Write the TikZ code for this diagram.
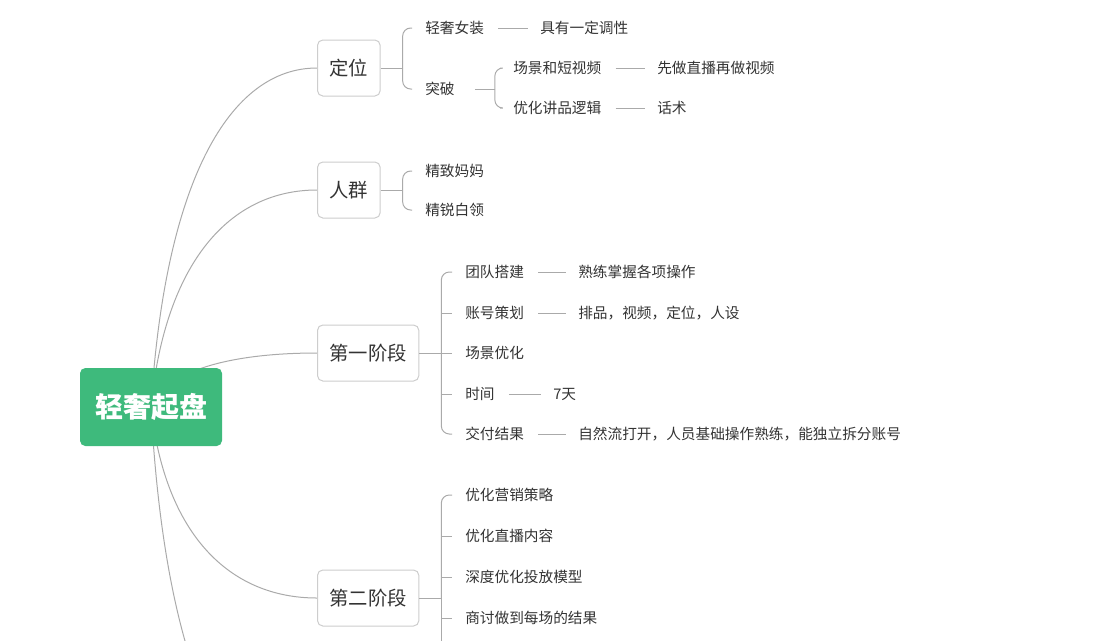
\documentclass[tikz,border=0pt]{standalone}
\usepackage{fontspec}
\setmainfont{Noto Sans CJK SC}
\usepackage{xcolor}
\usepackage{tikz}
\usetikzlibrary{backgrounds}
\definecolor{rootgreen}{RGB}{62,186,124}
\definecolor{linegray}{RGB}{170,170,170}
\definecolor{boxgray}{RGB}{205,205,205}
\definecolor{textdark}{RGB}{51,51,51}

\begin{document}
\begin{tikzpicture}[x=0.75pt, y=-0.75pt,
  root/.style={fill=rootgreen, rounded corners=4pt, minimum width=106.5pt, minimum height=58.5pt, text=white, font=\fontsize{21}{24}\selectfont\bfseries},
  topic/.style={draw=boxgray, fill=white, rounded corners=4pt, line width=0.75pt, minimum height=42pt, inner xsep=9pt, anchor=west, text=textdark, font=\fontsize{14.5}{17}\selectfont},
  item/.style={anchor=west, inner sep=0pt, text=textdark, font=\fontsize{11}{13}\selectfont},
  branch/.style={draw=linegray, line width=0.75pt},
  twig/.style={draw=linegray, line width=0.75pt, rounded corners=6pt, shorten >=9.75pt},
  leafline/.style={draw=linegray, line width=0.75pt, shorten <=10.5pt, shorten >=9pt}]
  \useasboundingbox (0,0) rectangle (1094,640);
  % root and main topics
  \node[root] (root) at (151,407) {轻奢起盘};
  \node[topic] (dw) at (317,68) {定位};
  \node[topic] (rq) at (317,190) {人群};
  \node[topic] (jd1) at (317,353) {第一阶段};
  \node[topic] (jd2) at (317,598) {第二阶段};
  \coordinate (next) at (317,800);
  % 定位
  \node[item] (dw1) at (425,28) {轻奢女装};
  \node[item] (dw1v) at (540,28) {具有一定调性};
  \node[item] (dw2) at (425,89) {突破};
  \node[item] (tp1) at (513,68) {场景和短视频};
  \node[item] (tp1v) at (657,68) {先做直播再做视频};
  \node[item] (tp2) at (513,108) {优化讲品逻辑};
  \node[item] (tp2v) at (657,108) {话术};
  % 人群
  \node[item] (rq1) at (425,171) {精致妈妈};
  \node[item] (rq2) at (425,210) {精锐白领};
  % 第一阶段
  \node[item] (a1) at (465,272) {团队搭建};
  \node[item] (a1v) at (578,272) {熟练掌握各项操作};
  \node[item] (a2) at (465,313) {账号策划};
  \node[item] (a2v) at (578,313) {排品，视频，定位，人设};
  \node[item] (a3) at (465,353) {场景优化};
  \node[item] (a4) at (465,394) {时间};
  \node[item] (a4v) at (553,394) {7天};
  \node[item] (a5) at (465,434) {交付结果};
  \node[item] (a5v) at (578,434) {自然流打开，人员基础操作熟练，能独立拆分账号};
  % 第二阶段
  \node[item] (b1) at (465,495) {优化营销策略};
  \node[item] (b2) at (465,536) {优化直播内容};
  \node[item] (b3) at (465,577) {深度优化投放模型};
  \node[item] (b4) at (465,618) {商讨做到每场的结果};

  \begin{pgfonlayer}{background}
    \draw[branch] (root.center) .. controls +(14,-227) and +(-87,0) .. (dw.west);
    \draw[branch] (root.center) .. controls +(14,-145) and +(-87,0) .. (rq.west);
    \draw[branch] (root.center) .. controls +(14,-36) and +(-87,0) .. (jd1.west);
    \draw[branch] (root.center) .. controls +(14,128) and +(-87,0) .. (jd2.west);
    \draw[branch] (root.center) .. controls +(14,263) and +(-87,0) .. (next);
  \end{pgfonlayer}

  % brackets
  \foreach \p in {dw,rq,jd1,jd2} \draw[branch] (\p.east) -- ++(22,0) coordinate (\p s);
  \draw[branch] (dw2.east) ++(20,0) -- ++(20,0) coordinate (dw2s);
  \foreach \c in {dw1,dw2} \draw[twig] (dws) |- (\c);
  \foreach \c in {tp1,tp2} \draw[twig] (dw2s) |- (\c);
  \foreach \c in {rq1,rq2} \draw[twig] (rqs) |- (\c);
  \foreach \c in {a1,a5} \draw[twig] (jd1s) |- (\c);
  \foreach \c in {a2,a3,a4} \draw[twig] (\c -| jd1s) -- (\c);
  \draw[twig] (jd2s) |- (b1);
  \foreach \c in {b2,b3,b4} \draw[twig] (\c -| jd2s) -- (\c);
  \draw[branch] (jd2s) -- ++(0,60);
  % leaves
  \foreach \a/\b in {dw1/dw1v, tp1/tp1v, tp2/tp2v, a1/a1v, a2/a2v, a4/a4v, a5/a5v}
    \draw[leafline] (\a) -- (\b);
\end{tikzpicture}
\end{document}
